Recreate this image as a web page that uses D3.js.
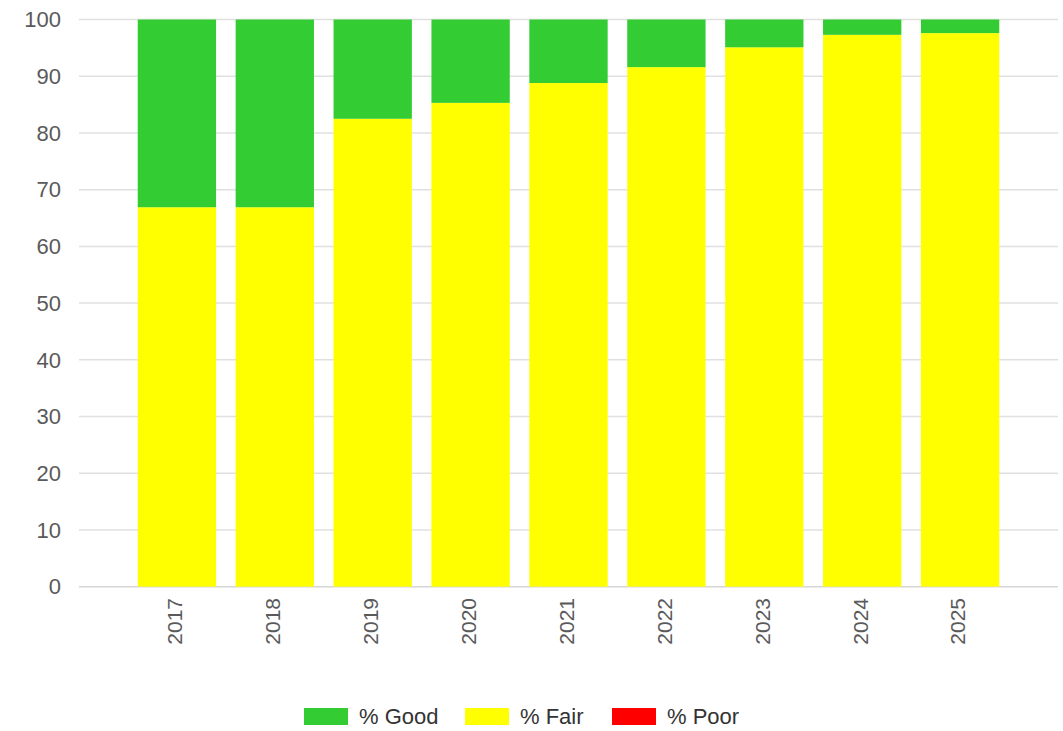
<!DOCTYPE html>
<html>
<head>
<meta charset="utf-8">
<script src="https://cdn.jsdelivr.net/npm/d3@7"></script>
<style>
  html, body { margin: 0; padding: 0; background: #fff; }
  svg { display: block; font-family: "Liberation Sans", Arial, sans-serif; }
</style>
</head>
<body>
<svg id="chart" width="1063" height="731"></svg>
<script>
const years = ["2017","2018","2019","2020","2021","2022","2023","2024","2025"];
const fair  = [66.9, 66.9, 82.5, 85.3, 88.8, 91.6, 95.1, 97.3, 97.6];
const good  = [33.1, 33.1, 17.5, 14.7, 11.2, 8.4, 4.9, 2.7, 2.4];
const poor  = [0, 0, 0, 0, 0, 0, 0, 0, 0];
const yTicks = [0,10,20,30,40,50,60,70,80,90,100];
const seriesNames = ["% Good", "% Fair", "% Poor"];
const seriesColors = ["#33cc33", "#ffff00", "#ff0000"];

const svg = d3.select("#chart");
const plotLeft = 79, plotRight = 1058, plotTop = 19.5, plotBottom = 586.7;

const x = d3.scalePoint().domain(years).range([plotLeft, plotRight]).padding(1);
const barW = x.step() * 0.8;
const y = d3.scaleLinear().domain([0, 100]).range([plotBottom, plotTop]);

const rows = years.map((yr, i) => ({ year: yr, poor: poor[i], fair: fair[i], good: good[i] }));
const keys = ["poor", "fair", "good"];
const colorOf = { good: seriesColors[0], fair: seriesColors[1], poor: seriesColors[2] };
const stacked = d3.stack().keys(keys)(rows);

// gridlines
svg.append("g").selectAll("line").data(yTicks).join("line")
  .attr("x1", plotLeft).attr("x2", plotRight)
  .attr("y1", d => y(d)).attr("y2", d => y(d))
  .attr("stroke", d => d === 0 ? "#d6d6d6" : "#e0e0e0")
  .attr("stroke-width", 1.5);

// y labels
svg.append("g").selectAll("text").data(yTicks).join("text")
  .attr("x", 61).attr("y", d => y(d))
  .attr("dy", "0.35em")
  .attr("text-anchor", "end")
  .attr("font-size", 22)
  .attr("fill", "#5a5a5a")
  .text(d => d);

// bars
svg.append("g").selectAll("g").data(stacked).join("g")
  .attr("fill", d => colorOf[d.key])
  .selectAll("rect").data(d => d).join("rect")
  .attr("x", d => x(d.data.year) - barW / 2)
  .attr("width", barW)
  .attr("y", d => y(d[1]))
  .attr("height", d => Math.max(0, y(d[0]) - y(d[1])));

// x labels
svg.append("g").selectAll("text").data(years).join("text")
  .attr("transform", d => `translate(${x(d) - 2},598) rotate(-90)`)
  .attr("dy", "0.35em")
  .attr("text-anchor", "end")
  .attr("font-size", 21)
  .attr("fill", "#5a5a5a")
  .text(d => d);

// legend
const legendX = [304, 465, 612];
const lg = svg.append("g").selectAll("g").data(seriesNames).join("g")
  .attr("transform", (d, i) => `translate(${legendX[i]},708)`);
lg.append("rect").attr("width", 44).attr("height", 17)
  .attr("fill", (d, i) => seriesColors[i]);
lg.append("text").attr("x", 55).attr("y", 8.5).attr("dy", "0.35em")
  .attr("font-size", 22).attr("fill", "#333")
  .text(d => d);
</script>
</body>
</html>
